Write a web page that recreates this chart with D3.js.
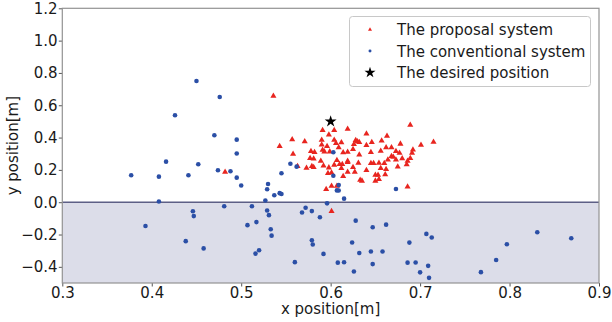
<!DOCTYPE html>
<html>
<head>
<meta charset="utf-8">
<script src="https://cdn.jsdelivr.net/npm/d3@7"></script>
<style>
  body { margin: 0; background: #fff; }
  svg { display: block; font-family: "DejaVu Sans", sans-serif; }
</style>
</head>
<body>
<svg width="612" height="322"></svg>
<script>
// proposal system (red triangles)
var proposalX = [0.591, 0.604, 0.619, 0.598, 0.557, 0.571, 0.590, 0.604, 0.606, 0.612,
  0.543, 0.590, 0.596, 0.591, 0.609, 0.578, 0.582, 0.558, 0.593, 0.599,
  0.614, 0.619, 0.577, 0.581, 0.589, 0.607, 0.619, 0.573, 0.579, 0.563,
  0.592, 0.598, 0.604, 0.610, 0.613, 0.612, 0.619, 0.597, 0.601, 0.619,
  0.614, 0.595, 0.601, 0.607, 0.601, 0.536, 0.482, 0.581,
  0.689, 0.640, 0.663, 0.628, 0.630, 0.632, 0.626, 0.646, 0.657, 0.640,
  0.678, 0.701, 0.715, 0.662, 0.668, 0.656, 0.673, 0.677, 0.645, 0.692,
  0.691, 0.625, 0.668, 0.670, 0.664, 0.673, 0.680, 0.689, 0.686, 0.632,
  0.631, 0.645, 0.648, 0.654, 0.660, 0.685, 0.675, 0.625, 0.627, 0.640,
  0.656, 0.662, 0.653, 0.661, 0.650, 0.633, 0.635, 0.650, 0.654, 0.686];
var proposalY = [0.445, 0.445, 0.453, 0.418, 0.388, 0.375, 0.385, 0.385, 0.365, 0.369,
  0.346, 0.356, 0.346, 0.323, 0.338, 0.315, 0.309, 0.299, 0.313, 0.313,
  0.307, 0.311, 0.272, 0.269, 0.255, 0.260, 0.255, 0.212, 0.223, 0.223,
  0.226, 0.214, 0.231, 0.235, 0.235, 0.210, 0.247, 0.179, 0.183, 0.187,
  0.161, 0.080, 0.101, 0.101, -0.056, 0.657, 0.187, 0.216,
  0.478, 0.424, 0.410, 0.383, 0.375, 0.371, 0.359, 0.371, 0.381, 0.352,
  0.361, 0.354, 0.373, 0.338, 0.338, 0.317, 0.315, 0.305, 0.309, 0.325,
  0.305, 0.328, 0.284, 0.280, 0.263, 0.263, 0.270, 0.272, 0.255, 0.293,
  0.243, 0.241, 0.241, 0.243, 0.241, 0.233, 0.220, 0.216, 0.187, 0.198,
  0.210, 0.204, 0.169, 0.171, 0.169, 0.138, 0.132, 0.132, 0.142, 0.095];

// conventional system (blue dots)
var conventionalX = [0.377, 0.393, 0.408, 0.408, 0.416, 0.426, 0.438, 0.441, 0.446, 0.447,
  0.450, 0.452, 0.458, 0.470, 0.474, 0.476, 0.481, 0.488, 0.495, 0.495,
  0.495, 0.500, 0.507, 0.512, 0.516, 0.517, 0.520, 0.527, 0.529, 0.529,
  0.530, 0.531, 0.533, 0.534, 0.537, 0.543, 0.545, 0.545, 0.555, 0.560,
  0.562, 0.568, 0.572, 0.579, 0.579, 0.580, 0.588, 0.592, 0.596, 0.603,
  0.603, 0.607, 0.609, 0.609, 0.608, 0.615, 0.615, 0.624, 0.628, 0.626,
  0.632, 0.645, 0.647, 0.647, 0.658, 0.662, 0.673, 0.686, 0.688, 0.695,
  0.700, 0.707, 0.709, 0.710, 0.713, 0.768, 0.785, 0.797, 0.831, 0.869];
var conventionalY = [0.167, -0.147, 0.004, 0.158, 0.251, 0.538, -0.241, 0.167, -0.056, -0.086,
  0.750, 0.235, -0.286, 0.414, 0.198, 0.651, -0.025, 0.192, 0.152, 0.301,
  0.387, 0.103, -0.142, -0.025, -0.318, -0.123, -0.297, 0.011, 0.080, -0.051,
  0.113, -0.080, -0.167, -0.207, 0.043, 0.056, 0.051, 0.179, 0.238, -0.371,
  0.220, -0.064, -0.034, -0.055, -0.236, -0.262, -0.093, -0.320, -0.007, 0.309,
  0.164, 0.073, 0.072, 0.106, -0.374, 0.022, -0.372, -0.249, -0.114, -0.429,
  -0.314, -0.305, -0.383, -0.155, -0.305, -0.139, 0.082, -0.374, -0.250, -0.373,
  -0.434, -0.196, -0.394, -0.468, -0.218, -0.433, -0.358, -0.260, -0.186, -0.223];

// desired position (star)
var desiredX = [0.6];
var desiredY = [0.5];

var xTicks = [0.3, 0.4, 0.5, 0.6, 0.7, 0.8, 0.9];
var yTicks = [-0.4, -0.2, 0.0, 0.2, 0.4, 0.6, 0.8, 1.0, 1.2];
var legendLabels = ["The proposal system", "The conventional system", "The desired position"];

function drawChart() {
  var svg = d3.select("svg");

  var mLeft = 62.3, mRight = 599, mTop = 8.3, mBottom = 283;
  var fontSize = "15px";

  var x = d3.scaleLinear().domain([0.3, 0.9]).range([mLeft, mRight]);
  var y = d3.scaleLinear().domain([-0.5, 1.2]).range([mBottom, mTop]);

  var red = "#e8251f", blue = "#2b4fa6";

  // shaded area under zero
  svg.append("rect")
    .attr("x", x(0.3))
    .attr("y", y(0))
    .attr("width", x(0.9) - x(0.3))
    .attr("height", y(-0.5) - y(0))
    .attr("fill", "#dcdde9");

  svg.append("line")
    .attr("x1", x(0.3)).attr("x2", x(0.9))
    .attr("y1", y(0)).attr("y2", y(0))
    .attr("stroke", "#5d5f86")
    .attr("stroke-width", 1.4);

  var tri = d3.symbol().type(d3.symbolTriangle).size(16);
  var star = d3.symbol().type(d3.symbolStar).size(44);

  svg.append("g").selectAll("path")
    .data(proposalX)
    .enter()
    .append("path")
    .attr("d", tri)
    .attr("fill", red)
    .attr("transform", function (d, i) {
      return "translate(" + x(d) + "," + y(proposalY[i]) + ")";
    });

  svg.append("g").selectAll("circle")
    .data(conventionalX)
    .enter()
    .append("circle")
    .attr("cx", function (d) { return x(d); })
    .attr("cy", function (d, i) { return y(conventionalY[i]); })
    .attr("r", 2.3)
    .attr("fill", blue);

  svg.append("g").selectAll("path")
    .data(desiredX)
    .enter()
    .append("path")
    .attr("d", star)
    .attr("fill", "#000")
    .attr("transform", function (d, i) {
      return "translate(" + x(d) + "," + y(desiredY[i]) + ")";
    });

  // axes
  var fmt = d3.format(".1f");
  var xAxis = svg.append("g")
    .attr("transform", "translate(0," + mBottom + ")")
    .call(d3.axisBottom(x).tickValues(xTicks).tickFormat(fmt).tickSize(3.5).tickPadding(1.2));
  var yAxis = svg.append("g")
    .attr("transform", "translate(" + mLeft + ",0)")
    .call(d3.axisLeft(y).tickValues(yTicks).tickFormat(fmt).tickSize(3.5).tickPadding(1.2));

  [xAxis, yAxis].forEach(function (a) {
    a.attr("font-family", null).attr("font-size", null);
    a.select(".domain").remove();
    a.selectAll("line").attr("stroke", "#555");
    a.selectAll("text").attr("fill", "#1a1a1a").style("font-size", fontSize);
  });

  // frame
  svg.append("rect")
    .attr("x", mLeft).attr("y", mTop)
    .attr("width", mRight - mLeft).attr("height", mBottom - mTop)
    .attr("fill", "none")
    .attr("stroke", "#939393")
    .attr("stroke-width", 1.2);

  svg.append("text")
    .attr("x", (mLeft + mRight) / 2)
    .attr("y", 313.5)
    .attr("text-anchor", "middle")
    .style("font-size", fontSize)
    .attr("fill", "#1a1a1a")
    .text("x position[m]");

  svg.append("text")
    .attr("transform", "translate(18," + (mTop + mBottom) / 2 + ") rotate(-90)")
    .attr("text-anchor", "middle")
    .style("font-size", fontSize)
    .attr("fill", "#1a1a1a")
    .text("y position[m]");

  // legend
  var legend = svg.append("g");
  legend.append("rect")
    .attr("x", 349.5).attr("y", 16.5)
    .attr("width", 241).attr("height", 70)
    .attr("rx", 3)
    .attr("fill", "#fff")
    .attr("stroke", "#c8c8c8");

  var rows = legend.selectAll(".legend")
    .data(legendLabels)
    .enter()
    .append("g")
    .attr("class", "legend")
    .attr("transform", function (d, i) {
      return "translate(370," + (29.5 + i * 21.5) + ")";
    });

  rows.append("path")
    .attr("d", function (d, i) {
      if (i == 0) return d3.symbol().type(d3.symbolTriangle).size(7)();
      if (i == 1) return d3.symbol().type(d3.symbolCircle).size(7)();
      return d3.symbol().type(d3.symbolStar).size(38)();
    })
    .attr("fill", function (d, i) { return [red, blue, "#000"][i]; });

  rows.append("text")
    .attr("x", 27)
    .attr("y", 5.5)
    .style("font-size", fontSize)
    .attr("fill", "#1a1a1a")
    .text(function (d) { return d; });
}

drawChart();
</script>
</body>
</html>
